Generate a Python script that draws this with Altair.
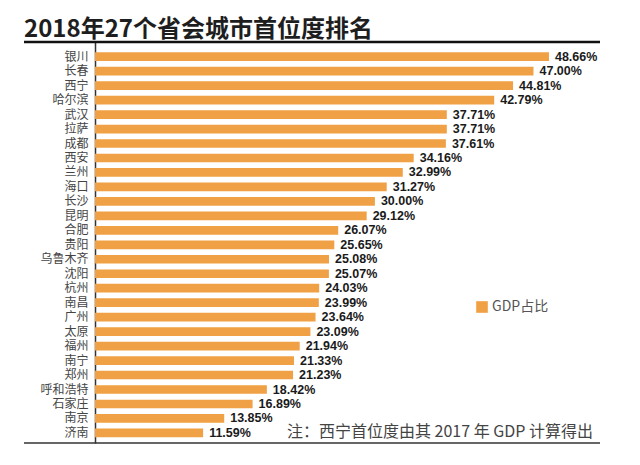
import altair as alt
import pandas as pd

title_text = "2018年27个省会城市首位度排名"
note_text = "注：西宁首位度由其 2017 年 GDP 计算得出"
series_name = "GDP占比"

cities = ["银川", "长春", "西宁", "哈尔滨", "武汉", "拉萨", "成都", "西安", "兰州",
          "海口", "长沙", "昆明", "合肥", "贵阳", "乌鲁木齐", "沈阳", "杭州", "南昌",
          "广州", "太原", "福州", "南宁", "郑州", "呼和浩特", "石家庄", "南京", "济南"]
values = [48.66, 47.00, 44.81, 42.79, 37.71, 37.71, 37.61, 34.16, 32.99,
          31.27, 30.00, 29.12, 26.07, 25.65, 25.08, 25.07, 24.03, 23.99,
          23.64, 23.09, 21.94, 21.33, 21.23, 18.42, 16.89, 13.85, 11.59]
labels = [f"{v:.2f}%" for v in values]

df = pd.DataFrame({"city": cities, "value": values, "label": labels,
                   "series": [series_name] * len(cities)})
one = pd.DataFrame({"t": [title_text], "n": [note_text]})

CJK = "Noto Sans CJK SC"
ORANGE = "#F0A045"

yenc = alt.Y("city:N", sort=cities,
             scale=alt.Scale(paddingInner=0.4, paddingOuter=0.556, align=0.643),
             axis=alt.Axis(title=None, ticks=False, domainColor="#333333",
                           domainWidth=1.5, labelFont=CJK, labelFontSize=12,
                           labelFontWeight="normal", labelOverlap=False,
                           labelColor="#444444", labelPadding=7))
xenc = alt.X("value:Q", scale=alt.Scale(domain=[0, 54.13], nice=False), axis=None)

bars = alt.Chart(df).mark_bar().encode(
    y=yenc, x=xenc,
    color=alt.Color("series:N", scale=alt.Scale(range=[ORANGE]),
                    legend=alt.Legend(title=None, orient="none", legendX=380, legendY=258,
                                      symbolType="square", symbolSize=135,
                                      symbolStrokeWidth=0, symbolOpacity=1,
                                      labelFont=CJK, labelFontSize=14,
                                      labelColor="#555555", labelOffset=3)),
)

vals = alt.Chart(df).mark_text(align="left", dx=6, font="Liberation Sans",
                               fontWeight="bold", fontSize=12.5, color="#1a1a1a").encode(
    y=alt.Y("city:N", sort=cities), x="value:Q", text="label:N")

top_line = alt.Chart(one).mark_rule(color="#111111", strokeWidth=2.5).encode(
    x=alt.value(-71), x2=alt.value(505), y=alt.value(0))
bottom_line = alt.Chart(one).mark_rule(color="#333333", strokeWidth=1.5).encode(
    x=alt.value(-71), x2=alt.value(505), y=alt.value(401))

title = alt.Chart(one).mark_text(align="left", baseline="alphabetic", font=CJK,
                                 fontWeight="bold", fontSize=24, color="#1e1e1e").encode(
    x=alt.value(-71), y=alt.value(-5), text="t:N")
note = alt.Chart(one).mark_text(align="left", baseline="alphabetic", font=CJK,
                                fontSize=16, color="#444444").encode(
    x=alt.value(192), y=alt.value(395), text="n:N")

chart = alt.layer(bars, vals, top_line, bottom_line, title, note).properties(
    width=505, height=401,
    autosize=alt.AutoSizeParams(type="none"),
    padding={"left": 87, "top": 34, "right": 20, "bottom": 10},
    background="white",
).configure_view(stroke=None)

chart.save("out.html", embed_options={"renderer": "svg", "actions": False})
